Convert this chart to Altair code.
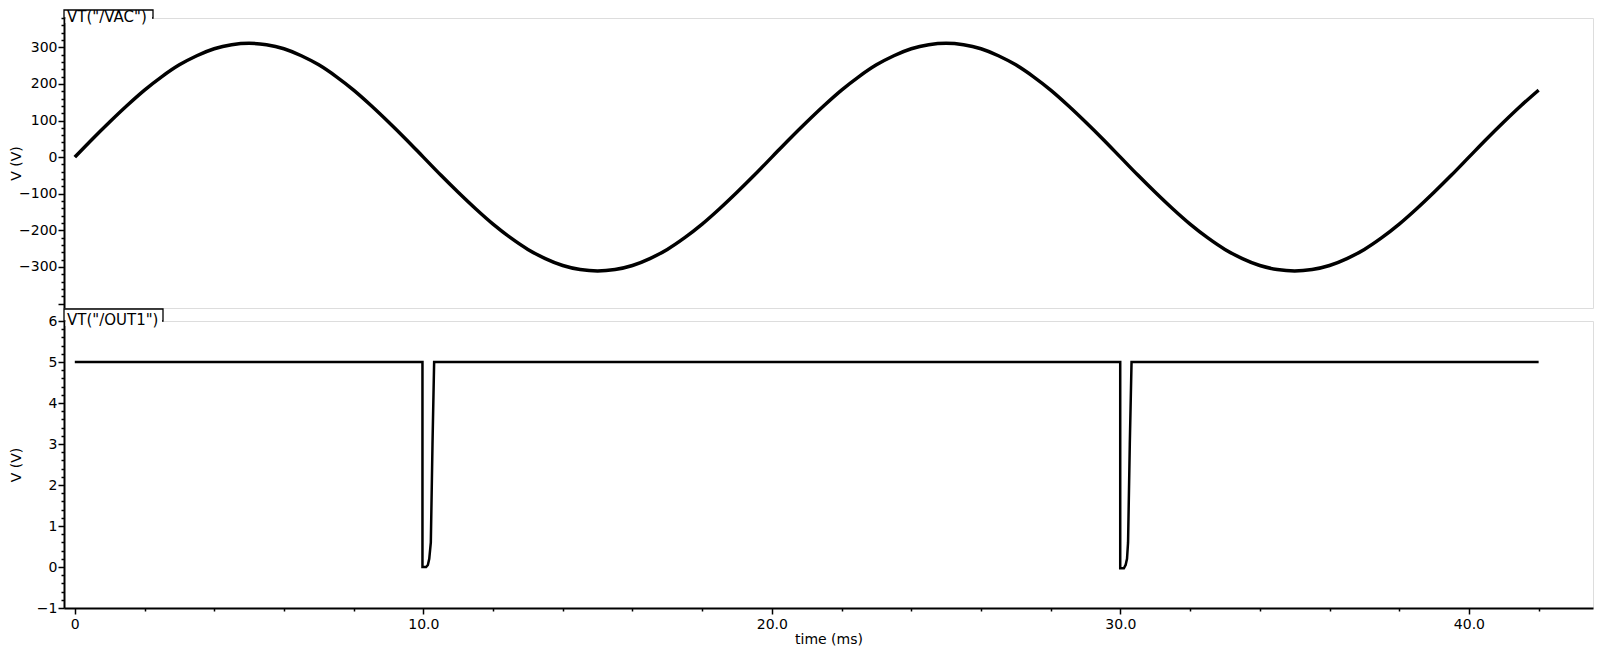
import altair as alt
import pandas as pd

# ---- VT("/VAC"): samples every 0.5 ms (time in ms, volts)
vac_t = [0.0, 0.5, 1.0, 1.5, 2.0, 2.5, 3.0, 3.5, 4.0, 4.5, 5.0, 5.5, 6.0, 6.5, 7.0, 7.5, 8.0, 8.5, 9.0, 9.5,
         10.0, 10.5, 11.0, 11.5, 12.0, 12.5, 13.0, 13.5, 14.0, 14.5, 15.0, 15.5, 16.0, 16.5, 17.0, 17.5, 18.0, 18.5, 19.0, 19.5,
         20.0, 20.5, 21.0, 21.5, 22.0, 22.5, 23.0, 23.5, 24.0, 24.5, 25.0, 25.5, 26.0, 26.5, 27.0, 27.5, 28.0, 28.5, 29.0, 29.5,
         30.0, 30.5, 31.0, 31.5, 32.0, 32.5, 33.0, 33.5, 34.0, 34.5, 35.0, 35.5, 36.0, 36.5, 37.0, 37.5, 38.0, 38.5, 39.0, 39.5,
         40.0, 40.5, 41.0, 41.5, 42.0]
vac_v = [0, 49, 96, 141, 183, 220, 252, 277, 296, 307, 311, 307, 296, 277, 252, 220, 183, 141, 96, 49,
         0, -49, -96, -141, -183, -220, -252, -277, -296, -307, -311, -307, -296, -277, -252, -220, -183, -141, -96, -49,
         0, 49, 96, 141, 183, 220, 252, 277, 296, 307, 311, 307, 296, 277, 252, 220, 183, 141, 96, 49,
         0, -49, -96, -141, -183, -220, -252, -277, -296, -307, -311, -307, -296, -277, -252, -220, -183, -141, -96, -49,
         0, 49, 96, 141, 183]

# ---- VT("/OUT1"): breakpoints
out_t = [0.0, 9.975, 9.975, 10.08, 10.13, 10.17, 10.215, 10.263, 10.31,
         29.995, 29.995, 30.1, 30.15, 30.19, 30.22, 30.27, 30.32, 42.0]
out_v = [5, 5, 0, 0, 0.05, 0.2, 0.6, 3.0, 5,
         5, -0.03, -0.03, 0.05, 0.2, 0.6, 3.0, 5, 5]

x_ticks = [0, 2, 4, 6, 8, 10, 12, 14, 16, 18, 20, 22, 24, 26, 28, 30, 32, 34, 36, 38, 40, 42]
vac_ticks = list(range(-400, 381, 20))
out_ticks = [round(-1 + 0.2 * i, 1) for i in range(36)]

vac_df = pd.DataFrame({"t": vac_t, "v": vac_v})
out_df = pd.DataFrame({"t": out_t, "v": out_v, "i": list(range(len(out_t)))})

FONT = "DejaVu Sans"
W = 1529
x_scale = alt.Scale(domain=[-0.31, 43.56], nice=False, zero=False)


def y_axis(values, tick_test, label_test):
    return alt.Axis(
        values=values,
        labelExpr=f"({label_test}) ? format(datum.value, 'd') : ''",
        tickSize={"condition": {"test": tick_test, "value": 6}, "value": 3},
        tickWidth=1.5,
        tickColor="black",
        domainColor="black",
        domainWidth=2,
        labelPadding=1,
        labelFont=FONT,
        labelFontSize=14,
        labelColor="black",
        title="V (V)",
        titleFont=FONT,
        titleFontSize=14,
        titleFontWeight="normal",
        titleColor="black",
        titleX=-48,
        titleBaseline="middle",
        grid=False,
        labelFlush=False,
        labelOverlap=False,
    )


def tab(label, width, top):
    d = pd.DataFrame({"label": [label]})
    box = alt.Chart(d).mark_rect(fill="white", stroke="black", strokeWidth=1.3).encode(
        x=alt.value(0), x2=alt.value(width), y=alt.value(top), y2=alt.value(0)
    )
    cover = alt.Chart(d).mark_rect(fill="white", strokeWidth=0).encode(
        x=alt.value(1.5), x2=alt.value(width - 1), y=alt.value(top + 1), y2=alt.value(5)
    )
    txt = alt.Chart(d).mark_text(
        align="left", baseline="alphabetic", font=FONT, fontSize=15, color="black"
    ).encode(x=alt.value(3), y=alt.value(4), text="label:N")
    return [box, cover, txt]


top_line = alt.Chart(vac_df).mark_line(color="black", strokeWidth=3.5, interpolate="monotone").encode(
    x=alt.X("t:Q", scale=x_scale, axis=None),
    y=alt.Y("v:Q", scale=alt.Scale(domain=[-412, 380], nice=False, zero=False),
            axis=y_axis(vac_ticks, "datum.value % 100 === 0",
                        "datum.value % 100 === 0 && abs(datum.value) <= 300")),
)
top = alt.layer(top_line, *tab('VT("/VAC")', 89, -8)).properties(width=W, height=290)

bot_line = alt.Chart(out_df).mark_line(color="black", strokeWidth=2.5).encode(
    x=alt.X("t:Q", scale=x_scale, axis=alt.Axis(
        values=x_ticks,
        labelExpr="datum.value === 0 ? '0' : (datum.value % 10 === 0 ? format(datum.value, '.1f') : '')",
        tickSize={"condition": {"test": "datum.value % 10 === 0", "value": 6}, "value": 3},
        tickWidth=1.5,
        tickColor="black",
        domainColor="black",
        domainWidth=2,
        labelPadding=3,
        labelFont=FONT,
        labelFontSize=14,
        labelColor="black",
        labelFlush=False,
        labelOverlap=False,
        title="time (ms)",
        titleFont=FONT,
        titleFontSize=14,
        titleFontWeight="normal",
        titleColor="black",
        titlePadding=1,
        grid=False,
    )),
    y=alt.Y("v:Q", scale=alt.Scale(domain=[-1, 6], nice=False, zero=False),
            axis=y_axis(out_ticks, "abs(datum.value - round(datum.value)) < 0.001",
                        "abs(datum.value - round(datum.value)) < 0.001")),
    order="i:Q",
)
bottom = alt.layer(bot_line, *tab('VT("/OUT1")', 99, -12)).properties(width=W, height=287)

chart = alt.vconcat(top, bottom, spacing=13, bounds="flush").properties(
    padding={"left": 0, "top": 0, "right": 0, "bottom": 0}
).configure_view(stroke="black", strokeWidth=1.5).configure(background="white")

chart.save("out.html", embed_options={"renderer": "svg", "actions": False})
